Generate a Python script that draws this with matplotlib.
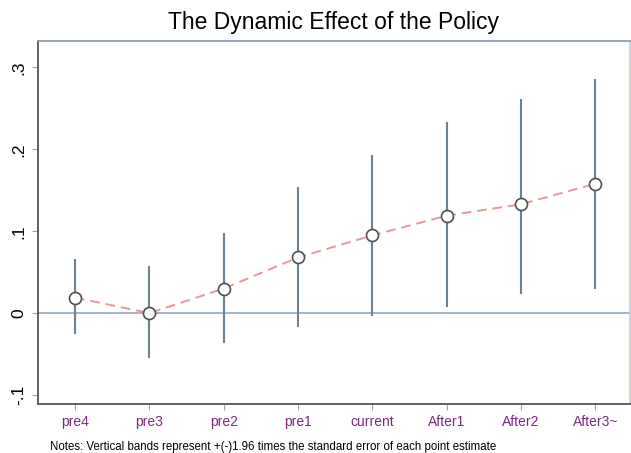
import matplotlib.pyplot as plt
import numpy as np

plt.rcParams['font.family'] = ['Liberation Sans', 'DejaVu Sans']

periods = ['pre4', 'pre3', 'pre2', 'pre1', 'current', 'After1', 'After2', 'After3~']
coef = [0.019, 0.000, 0.030, 0.068, 0.095, 0.119, 0.133, 0.158]
ci_low = [-0.026, -0.055, -0.037, -0.017, -0.004, 0.007, 0.024, 0.030]
ci_high = [0.066, 0.057, 0.098, 0.154, 0.193, 0.233, 0.262, 0.286]

fig = plt.figure(figsize=(6.31, 4.53), dpi=100)
ax = fig.add_axes([0.060, 0.108, 0.939, 0.801])

x = np.arange(len(periods))

ax.axhline(0, color='#8fa9bd', linewidth=1.2, zorder=1)
ax.vlines(x, ci_low, ci_high, color='#6a8294', linewidth=1.5, zorder=2)
ax.plot(x, coef, linestyle=(0, (5, 3)), color='#e59a98', linewidth=1.4, zorder=3)
ax.scatter(x, coef, s=75, facecolor='white', edgecolor='#505050', linewidth=1.2, zorder=4)

ax.set_xlim(-0.5, 7.47)
ax.set_ylim(-0.111, 0.332)
ax.set_xticks(x)
ax.set_xticklabels(periods, color='#7b2a7d', fontsize=10)
ax.set_yticks([-0.1, 0, 0.1, 0.2, 0.3])
ax.set_yticklabels(['-.1', '0', '.1', '.2', '.3'], rotation=90, va='center', fontsize=12.5)
ax.tick_params(axis='both', length=4, color='#a0a0a0')
ax.tick_params(axis='y', pad=4)
ax.tick_params(axis='x', pad=4)

ax.spines['left'].set_color('#555555')
ax.spines['bottom'].set_color('#555555')
ax.spines['top'].set_color('#8fa0b0')
ax.spines['right'].set_color('#c8d0d8')
for s in ax.spines.values():
    s.set_linewidth(1.3)

fig.text(0.528, 0.975, 'The Dynamic Effect of the Policy', ha='center', va='top', fontsize=16.5)
fig.text(0.079, 0.014, 'Notes: Vertical bands represent +(-)1.96 times the standard error of each point estimate',
         ha='left', va='center', fontsize=8.3)

plt.savefig('out.png', dpi=100)
